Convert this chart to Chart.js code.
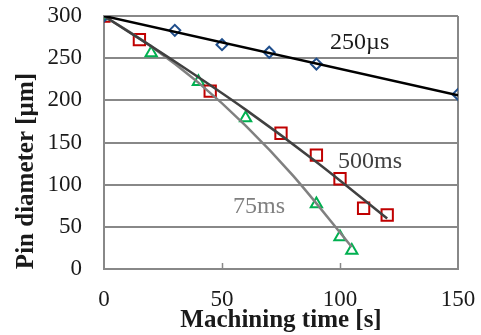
<!DOCTYPE html>
<html><head><meta charset="utf-8">
<script src="https://cdn.jsdelivr.net/npm/chart.js@4/dist/chart.umd.min.js"></script>
<style>html,body{margin:0;padding:0;background:#fff}#w{width:481px;height:335px}</style>
</head><body><div id="w"><canvas id="c" width="481" height="335"></canvas></div>
<script>
// Measured points
const t250us = [0, 30, 50, 70, 90, 150];
const d250us = [300, 283, 266, 257, 243, 207];
const t500ms = [0, 15, 45, 75, 90, 100, 110, 120];
const d500ms = [300, 272, 211, 161, 135, 107, 72, 64];
const t75ms = [0, 20, 40, 60, 90, 100, 105];
const d75ms = [300, 256, 222, 179, 77, 38, 22];
// Trend lines
const trend250usT = [0, 150];
const trend250usD = [300, 206];
const trend500msT = [0, 30, 60, 90, 120];
const trend500msD = [300, 246, 189, 127, 60];
const trend75msT = [0, 20, 40, 60, 80, 105];
const trend75msD = [300, 264, 221, 170, 111, 26];
const xTicks = [0, 50, 100, 150];
const yTicks = [0, 50, 100, 150, 200, 250, 300];

const pts = (xs, ys) => xs.map((x, i) => ({x, y: ys[i]}));
const FONT = "'Liberation Serif', 'Times New Roman', serif";

const labelsPlugin = {
  id: 'labels',
  afterDraw(chart) {
    const {ctx, scales: {x, y}} = chart;
    ctx.save();
    // inward ticks on x axis
    ctx.strokeStyle = '#888';
    ctx.lineWidth = 1.5;
    [50, 100].forEach(v => {
      const px = Math.round(x.getPixelForValue(v)) + 0.5;
      ctx.beginPath();
      ctx.moveTo(px, y.bottom);
      ctx.lineTo(px, y.bottom - 6);
      ctx.stroke();
    });
    ctx.font = "24px " + FONT;
    ctx.textBaseline = 'middle';
    ctx.textAlign = 'left';
    ctx.fillStyle = '#1a1a1a';
    ctx.fillText('250\u00b5s', x.getPixelForValue(95.8), y.getPixelForValue(268));
    ctx.fillStyle = '#404040';
    ctx.fillText('500ms', x.getPixelForValue(99.2), y.getPixelForValue(127));
    ctx.fillStyle = '#7f7f7f';
    ctx.fillText('75ms', x.getPixelForValue(54.7), y.getPixelForValue(73.5));
    // axis titles
    ctx.fillStyle = '#1a1a1a';
    ctx.textAlign = 'center';
    ctx.textBaseline = 'alphabetic';
    ctx.font = "bold 25px " + FONT;
    ctx.fillText('Machining time [s]', (x.left + x.right) / 2, 327);
    ctx.translate(33, 171);
    ctx.rotate(-Math.PI / 2);
    ctx.fillText('Pin diameter [\u00b5m]', 0, 0);
    ctx.restore();
  }
};

new Chart(document.getElementById('c'), {
  type: 'scatter',
  data: {
    datasets: [
      {data: pts(trend250usT, trend250usD), showLine: true, borderColor: '#000', borderWidth: 2.5, pointRadius: 0, order: 1},
      {data: pts(trend500msT, trend500msD), showLine: true, borderColor: '#404040', borderWidth: 2.5, pointRadius: 0, cubicInterpolationMode: 'monotone', order: 1},
      {data: pts(trend75msT, trend75msD), showLine: true, borderColor: '#808080', borderWidth: 2.5, pointRadius: 0, cubicInterpolationMode: 'monotone', order: 1},
      {data: pts(t250us, d250us), pointStyle: 'rectRot', pointRadius: 5.5, borderColor: '#1f4e8c', backgroundColor: 'rgba(0,0,0,0)', borderWidth: 2, order: 2},
      {data: pts(t500ms, d500ms), pointStyle: 'rect', pointRadius: 8, borderColor: '#c00000', backgroundColor: 'rgba(0,0,0,0)', borderWidth: 2, order: 2},
      {data: pts(t75ms, d75ms), pointStyle: 'triangle', pointRadius: 6.5, borderColor: '#00b050', backgroundColor: 'rgba(0,0,0,0)', borderWidth: 2, order: 2}
    ]
  },
  options: {
    responsive: false,
    animation: false,
    events: [],
    layout: {padding: {top: 16, right: 23, left: 0, bottom: 0}},
    plugins: {legend: {display: false}, tooltip: {enabled: false}},
    scales: {
      x: {
        type: 'linear', min: 0, max: 150,
        afterBuildTicks: s => { s.ticks = xTicks.map(v => ({value: v})); },
        afterFit: s => { s.height = 66; s.paddingLeft = 0; s.paddingRight = 0; },
        ticks: {font: {family: FONT, size: 23}, color: '#1a1a1a', padding: 17, maxRotation: 0},
        grid: {drawTicks: false, color: ctx => ctx.tick && ctx.tick.value === 150 ? '#888' : 'rgba(0,0,0,0)', lineWidth: 2},
        border: {color: '#888', width: 2}
      },
      y: {
        type: 'linear', min: 0, max: 300,
        afterBuildTicks: s => { s.ticks = yTicks.map(v => ({value: v})); },
        afterFit: s => { s.width = 104; s.paddingTop = 0; s.paddingBottom = 0; },
        ticks: {font: {family: FONT, size: 23}, color: '#1a1a1a', padding: 22},
        grid: {drawTicks: false, color: '#888', lineWidth: 2},
        border: {color: '#888', width: 2}
      }
    }
  },
  plugins: [labelsPlugin]
});
</script>
</body></html>
